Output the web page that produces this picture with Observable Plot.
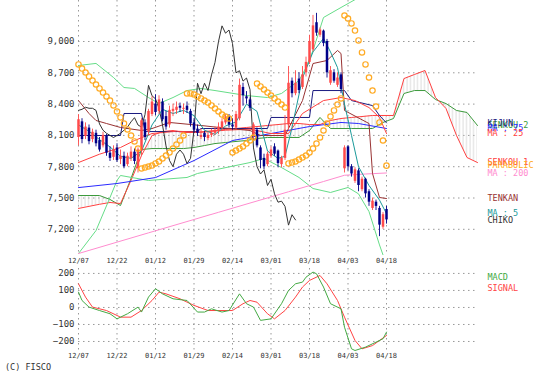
<!DOCTYPE html>
<html><head><meta charset="utf-8">
<script src="https://cdn.jsdelivr.net/npm/d3@7"></script>
<script src="https://cdn.jsdelivr.net/npm/@observablehq/plot@0.6"></script>
<style>
body{margin:0;background:#fff;width:534px;height:377px;overflow:hidden;position:relative;font-family:"DejaVu Sans Mono",monospace;}
#main{position:absolute;left:0;top:0;}
#macd{position:absolute;left:0;top:268px;}
#copy{position:absolute;left:5px;top:362px;font-size:8.5px;color:#333;}
</style></head><body>
<div id="main"></div><div id="macd"></div><div id="copy">(C) FISCO</div>
<script>
// ---- tick labels ----
const dateLabels = ["12/07","12/22","01/12","01/29","02/14","03/01","03/18","04/03","04/18"];
const tickBars = [0,11,22,33,44,55,66,77,88];
const priceTicks = [7200,7500,7800,8100,8400,8700,9000];
const macdTicks = [-200,-100,0,100,200];

// ---- candles ----
const open = [8080,8230,8090,8170,8060,8120,8050,8000,8090,7930,7890,7980,7870,7900,7820,7880,7940,7780,7950,8220,8130,8300,8400,8330,8420,8280,8200,8330,8340,8380,8350,8380,8330,8220,8160,8080,8120,8070,8100,8120,8140,8170,8220,8280,8200,8170,8260,8560,8470,8440,8100,8150,7980,7880,7820,7900,7990,7950,7820,7880,8200,8620,8500,8640,8560,8700,8800,8920,9180,9060,9100,9000,8600,8700,8580,8680,7780,7990,7800,7660,7760,7580,7680,7560,7400,7460,7400,7220,7390];
const high = [8300,8260,8220,8200,8160,8150,8080,8130,8110,7990,8000,8020,7960,7940,7930,7990,7970,7980,8260,8250,8350,8470,8490,8480,8450,8330,8380,8400,8420,8410,8400,8420,8350,8260,8200,8160,8140,8130,8160,8180,8220,8260,8300,8300,8260,8330,8640,8600,8520,8460,8220,8170,8000,7920,7940,7990,8020,7960,7900,8290,8760,8650,8720,8700,8760,8850,9060,9250,9270,9130,9110,9020,8760,8730,8700,8700,8000,8000,7820,7790,7780,7700,7690,7580,7500,7480,7420,7360,7420];
const low = [8000,8020,8060,8010,8030,7990,7940,7980,7900,7850,7860,7840,7820,7780,7800,7850,7820,7740,7900,8050,8100,8280,8290,8300,8230,8150,8170,8280,8300,8320,8300,8310,8180,8120,8090,8060,8040,8050,8080,8100,8110,8150,8200,8170,8150,8150,8240,8380,8400,8330,8060,7980,7780,7770,7800,7880,7900,7790,7790,7860,8150,8460,8480,8500,8540,8660,8780,8900,9050,9040,8950,8650,8580,8600,8560,8500,7740,7760,7700,7640,7560,7560,7500,7420,7380,7380,7130,7200,7250];
const close = [8250,8060,8180,8040,8130,8020,7960,8100,7930,7880,7960,7860,7900,7800,7900,7940,7850,7960,8240,8080,8330,8420,8320,8440,8250,8180,8340,8350,8370,8360,8360,8340,8210,8150,8120,8100,8080,8100,8120,8150,8180,8230,8270,8200,8180,8300,8580,8480,8450,8360,8200,8000,7860,7800,7920,7960,7920,7830,7880,8150,8600,8500,8600,8530,8680,8800,9000,9150,9080,9110,8980,8700,8720,8620,8650,8540,7980,7800,7730,7770,7620,7680,7540,7460,7470,7420,7240,7340,7290];

// ---- ichimoku cloud (sampled every 3 bars, incl. 26-bar forward shift) ----
const cloudBars = [0,3,6,9,12,15,18,21,24,27,30,33,36,39,42,45,48,51,54,57,60,63,66,69,72,75,78,81,84,87,90,93,96,99,102,105,108,111,114];
const senkou1 = [7400,7420,7440,7457,7447,7668,7907,8099,8137,8147,8128,8128,8137,8147,8157,8166,8176,8185,8195,8204,8214,8214,8204,8204,8243,8262,8272,8281,8291,8291,8291,8645,8684,8722,8463,8358,8099,7888,7840];
const senkou2 = [7524,7524,7524,7486,7428,7687,7965,7974,7974,7974,7974,7984,8003,8022,8032,8042,8051,8070,8080,8080,8080,8080,8147,8272,8166,8166,8166,8166,8166,8224,8262,8502,8530,8530,8444,8405,8339,8320,8195];

// ---- lines ----
const ma5Bar = [0,3,6,9,12,15,18,21,24,27,30,33,36,39,42,45,48,51,54,57,59,61,64,67,70,72,74,76,78,80,83,86,88];
const ma5Val = [8200,8140,8060,7990,7900,7880,7950,8200,8350,8310,8340,8290,8150,8110,8190,8230,8400,8330,7950,7880,7900,8175,8650,8900,9030,8900,8750,8400,8100,7800,7620,7480,7350];
const ma25Bar = [0,6,12,16,21,28,35,42,49,55,60,64,70,75,79,83,86,88];
const ma25Val = [7840,7920,7984,8051,8118,8140,8130,8150,8160,8118,8118,8310,8434,8463,8434,8367,8272,8118];
const ma75Bar = [0,11,22,33,44,55,66,75,80,88];
const ma75Val = [7600,7639,7696,7859,8051,8118,8185,8224,8214,8166];
const ma200Bar = [0,20,40,60,70,76,82,88];
const ma200Val = [6968,7166,7363,7560,7658,7718,7730,7740];
const tenkanBar = [0,3,5,8,12,18,21,26,35,43,49,52,59,64,67,71,74,75,76,83,84,86,88];
const tenkanVal = [8434,8310,8243,8214,8176,8147,8166,8224,8195,8166,8147,8099,8099,8434,8789,8818,8914,8885,8339,8214,7735,7505,7495];
const kijunBar = [0,12,13,18,19,34,35,54,55,66,67,76,78,84,86,88];
const kijunVal = [8099,8099,8310,8310,8137,8137,8166,8166,8272,8272,8530,8530,8434,8386,8290,8220];
const upperBar = [0,5,10,13,16,20,23,27,31,35,39,48,54,58,63,65,67,70,75,80,88];
const upperVal = [8770,8790,8655,8559,8550,8463,8406,8463,8530,8550,8530,8482,8463,8502,8626,8750,8914,9230,9326,9420,9500];
const lowerBar = [0,5,9,11,12,20,31,34,49,53,58,63,67,72,77,80,83,86,88];
const lowerVal = [6968,7188,7505,7668,7716,7668,7697,7735,7840,7879,7792,7697,7591,7553,7601,7540,7370,7050,6860];
const parabolic = [8780,8741,8703,8665,8626,8588,8550,8511,8473,8434,8387,8329,8272,8214,8157,8099,8042,7974,
  7783,7792,7802,7811,7831,7850,7879,7907,7936,7974,8013,8051,8099,
  8502,8502,8492,8473,8454,8434,8415,8387,8358,8329,8300,8281,8262,
  7936,7955,7974,7994,8022,8051,8080,
  8597,8569,8540,8511,8482,8454,8425,8396,8367,
  7831,7840,7850,7869,7888,7907,7936,7974,8022,8080,8147,8214,8281,8339,8396,8454,
  9249,9220,9173,9105,9010,8895,8780,8655,8530,8377,8224,8051,7810];

// ---- MACD ----
const macdBar = [0,1,3,6,9,11,14,17,18,20,22,24,27,31,34,36,38,41,43,46,48,50,52,55,58,60,62,64,65,67,68,70,72,75,76,78,79,82,85,87,88];
const macdVal = [90,41,2,-18,-37,-67,-37,2,-27,61,110,80,51,41,-27,-27,-8,-27,-18,80,22,2,-76,-67,22,100,139,149,178,208,198,120,22,-8,-116,-243,-253,-233,-204,-184,-145];
const signalBar = [0,2,4,8,12,15,18,21,23,25,29,33,37,41,44,47,49,51,54,56,59,62,64,66,69,71,74,76,79,81,84,86,88];
const signalVal = [139,61,2,-18,-57,-57,-18,41,90,80,51,12,-18,-18,-18,22,41,31,-37,-67,-18,61,120,159,188,139,41,-57,-194,-243,-224,-194,-165];

// ---- colours ----
const C = {up:"#ff4a4a", down:"#000088", ma5:"#1a9a9a", ma25:"#ff4040", ma75:"#2b2bff", ma200:"#ff8ccf",
  tenkan:"#993333", kijun:"#1a1a80", s1:"#ff4040", s2:"#3c9a3c", band:"#66dd88", chiko:"#333333",
  sar:"#ffaa22", macd:"#44aa44", signal:"#ff4444", grid:"#999999", text:"#333333"};

const pairs = (bars, vals) => bars.map((b, k) => ({b, v: vals[k]}));
const candles = close.map((c, i) => ({i, o: open[i], h: high[i], l: low[i], c}));
const cloud = cloudBars.map((b, k) => ({b, s1: senkou1[k], s2: senkou2[k]}));
const sar = parabolic.map((v, i) => ({b: i, v}));
const labelOf = new Map(tickBars.map((b, k) => [b, dateLabels[k]]));
const last = a => a[a.length - 1];
const legend = [
  {t:"SENKOU 2", v:last(senkou2), c:C.s2},
  {t:"KIJUN", v:last(kijunVal), c:C.kijun},
  {t:"MA : 75", v:last(ma75Val), c:C.ma75},
  {t:"MA : 25", v:last(ma25Val), c:C.ma25},
  {t:"SENKOU 1", v:last(senkou1), c:C.s1},
  {t:"PARABOLIC", v:last(parabolic), c:C.sar},
  {t:"MA : 200", v:last(ma200Val), c:C.ma200},
  {t:"TENKAN", v:last(tenkanVal), c:C.tenkan},
  {t:"MA : 5", v:last(ma5Val), c:C.ma5},
  {t:"CHIKO", v:last(close), c:C.chiko}
];
const xMax = 400 / 3.5;
const dotted = {stroke: C.grid, strokeDasharray: "1.5,3.5", strokeWidth: 1};
const font = "'DejaVu Sans Mono', monospace";
const ln = (bars, vals, stroke) => Plot.line(pairs(bars, vals), {x: "b", y: "v", stroke, strokeWidth: 1, clip: true});

const main = Plot.plot({
  width: 534, height: 270, marginLeft: 78, marginRight: 56, marginTop: 0, marginBottom: 15,
  style: {fontFamily: font, fontSize: "9px", color: C.text, background: "transparent"},
  x: {domain: [0, xMax]},
  y: {domain: [6949, 9393]},
  marks: [
    Plot.ruleY(priceTicks, dotted),
    Plot.ruleX(tickBars, dotted),
    Plot.areaY(cloud, {x: "b", y1: "s1", y2: "s2", fill: "url(#hatch)"}),
    Plot.line(cloud, {x: "b", y: "s2", stroke: C.s2, strokeWidth: 1}),
    Plot.line(cloud, {x: "b", y: "s1", stroke: C.s1, strokeWidth: 1}),
    ln(upperBar, upperVal, C.band),
    ln(lowerBar, lowerVal, C.band),
    ln(ma200Bar, ma200Val, C.ma200),
    ln(ma75Bar, ma75Val, C.ma75),
    ln(kijunBar, kijunVal, C.kijun),
    ln(ma25Bar, ma25Val, C.ma25),
    ln(tenkanBar, tenkanVal, C.tenkan),
    Plot.line(candles.filter(d => d.i >= 26), {x: d => d.i - 26, y: "c", stroke: C.chiko, strokeWidth: 1}),
    ln(ma5Bar, ma5Val, C.ma5),
    Plot.ruleX(candles, {x: "i", y1: "l", y2: "h", stroke: d => d.c >= d.o ? C.up : C.down, strokeWidth: 0.9}),
    Plot.ruleX(candles, {x: "i", y1: "o", y2: "c", stroke: d => d.c >= d.o ? C.up : C.down, strokeWidth: 2.5}),
    Plot.dot(sar, {x: "b", y: "v", r: 2.7, stroke: C.sar, strokeWidth: 1.2, fill: "none"}),
    Plot.text(legend, {y: "v", text: "t", fill: "c", frameAnchor: "right", dx: 9, textAnchor: "start", fontSize: 8.5}),
    Plot.axisY(priceTicks, {tickSize: 0, tickPadding: 4, tickFormat: d3.format(","), fontSize: 9, label: null}),
    Plot.axisX(tickBars, {tickSize: 0, tickPadding: 3, tickFormat: d => labelOf.get(d), fontSize: 7, label: null})
  ]
});
const ns = "http://www.w3.org/2000/svg";
const defs = document.createElementNS(ns, "defs");
defs.innerHTML = '<pattern id="hatch" width="3.5" height="6" patternUnits="userSpaceOnUse"><line x1="1" y1="0" x2="1" y2="6" stroke="#c8c8c8" stroke-width="0.7"/></pattern>';
main.insertBefore(defs, main.firstChild);
document.getElementById("main").appendChild(main);

const macd = Plot.plot({
  width: 534, height: 97, marginLeft: 78, marginRight: 56, marginTop: 0, marginBottom: 15,
  style: {fontFamily: font, fontSize: "9px", color: C.text, background: "transparent"},
  x: {domain: [0, xMax]},
  y: {domain: [-253, 229]},
  marks: [
    Plot.ruleY(macdTicks, dotted),
    Plot.ruleX(tickBars, dotted),
    Plot.line(pairs(signalBar, signalVal), {x: "b", y: "v", stroke: C.signal, strokeWidth: 1}),
    Plot.line(pairs(macdBar, macdVal), {x: "b", y: "v", stroke: C.macd, strokeWidth: 1}),
    Plot.text([{t: "MACD", v: 176, c: C.macd}, {t: "SIGNAL", v: 112, c: C.signal}],
      {y: "v", text: "t", fill: "c", frameAnchor: "right", dx: 9, textAnchor: "start", fontSize: 8.5}),
    Plot.axisY(macdTicks, {tickSize: 0, tickPadding: 4, fontSize: 9, label: null}),
    Plot.axisX(tickBars, {tickSize: 0, tickPadding: 3, tickFormat: d => labelOf.get(d), fontSize: 7, label: null})
  ]
});
document.getElementById("macd").appendChild(macd);
</script>
</body></html>
